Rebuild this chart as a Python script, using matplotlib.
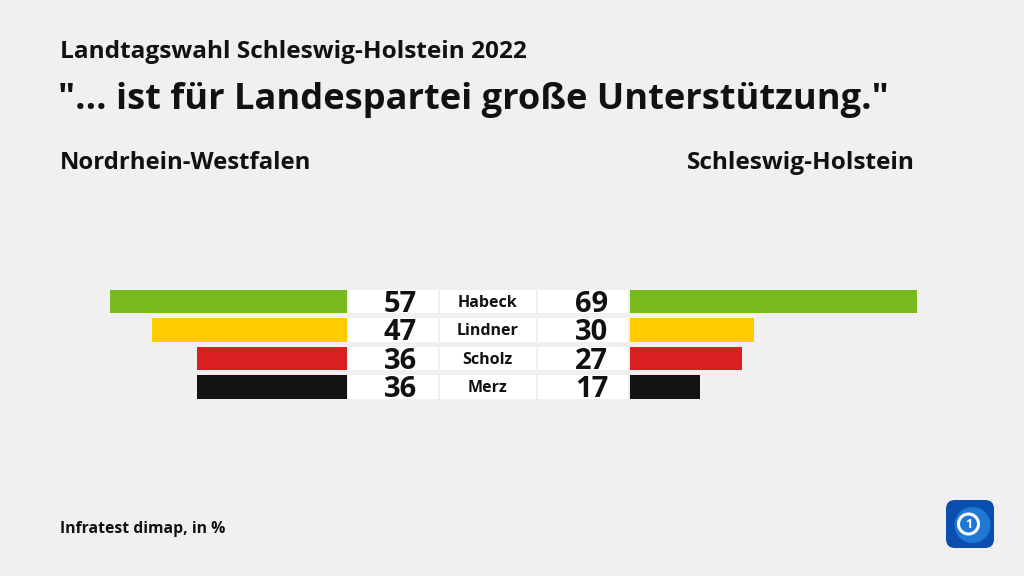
import matplotlib
matplotlib.use("Agg")
import matplotlib.pyplot as plt
from matplotlib.patches import FancyBboxPatch, Circle
import numpy as np

plt.rcParams['font.family'] = ['Open Sans', 'DejaVu Sans']

# ---- data ----
candidates = ["Habeck", "Lindner", "Scholz", "Merz"]
nrw_values = [57, 47, 36, 36]
sh_values = [69, 30, 27, 17]
colors = ["#79bb1e", "#ffcc00", "#d7201f", "#131313"]
title_top = "Landtagswahl Schleswig-Holstein 2022"
title_main = '"... ist für Landespartei große Unterstützung."'
left_header = "Nordrhein-Westfalen"
right_header = "Schleswig-Holstein"
source = "Infratest dimap, in %"

BG = "#f0f0f0"
W, H = 1024, 576
fig = plt.figure(figsize=(W / 100, H / 100), dpi=100, facecolor=BG)

def px_axes(x0, y0, x1, y1):
    return fig.add_axes([x0 / W, 1 - y1 / H, (x1 - x0) / W, (y1 - y0) / H])

n = len(candidates)
ypos = np.arange(n)
row_top, row_pitch = 287.25, 28.5
row_bot = row_top + row_pitch * n
bar_h = 0.81
vmax = 69

# left bars (grow leftwards)
axl = px_axes(60, row_top, 347, row_bot)
axl.barh(ypos, nrw_values, height=bar_h, color=colors)
axl.set_xlim(vmax, 0)
axl.set_ylim(n - 0.5, -0.5)
axl.axis("off")

# right bars
axr = px_axes(629.5, row_top, 916.5, row_bot)
axr.barh(ypos, sh_values, height=bar_h, color=colors)
axr.set_xlim(0, vmax)
axr.set_ylim(n - 0.5, -0.5)
axr.axis("off")

# middle table with white boxes
axm = px_axes(347, row_top, 629.5, row_bot)
axm.set_xlim(347, 629.5)
axm.set_ylim(n - 0.5, -0.5)
axm.axis("off")
boxes = [(347.5, 437.5), (439.5, 536), (538, 628)]
for (b0, b1) in boxes:
    axm.barh(ypos, [b1 - b0] * n, left=b0, height=bar_h, color="white")
for i in range(n):
    axm.text(417, i + 0.1, str(nrw_values[i]), ha="right", va="center",
             fontsize=21, fontweight="bold", color="#111111")
    axm.text(487.5, i + 0.05, candidates[i], ha="center", va="center",
             fontsize=11.5, fontweight="bold", color="#111111")
    axm.text(608, i + 0.1, str(sh_values[i]), ha="right", va="center",
             fontsize=21, fontweight="bold", color="#111111")

# titles
fig.text(60 / W, 1 - 52 / H, title_top, ha="left", va="center",
         fontsize=17.6, fontweight="bold", color="#111111")
fig.text(58 / W, 1 - 100 / H, title_main, ha="left", va="center",
         fontsize=26.1, fontweight="bold", color="#111111")
fig.text(60 / W, 1 - 163 / H, left_header, ha="left", va="center",
         fontsize=17.2, fontweight="bold", color="#111111")
fig.text(915 / W, 1 - 163 / H, right_header, ha="right", va="center",
         fontsize=17.6, fontweight="bold", color="#111111")
fig.text(60 / W, 1 - 529 / H, source, ha="left", va="center",
         fontsize=11.3, fontweight="bold", color="#111111")

# logo
axg = px_axes(945, 499, 995, 549)
axg.set_xlim(0, 1)
axg.set_ylim(0, 1)
axg.axis("off")
axg.add_patch(FancyBboxPatch((0.02, 0.02), 0.96, 0.96, boxstyle="round,pad=0,rounding_size=0.18",
                             facecolor="#0a4fb0", edgecolor="none"))
axg.add_patch(Circle((0.55, 0.48), 0.36, facecolor="#1f78d6", edgecolor="none"))
axg.add_patch(Circle((0.47, 0.5), 0.2, facecolor="none", edgecolor="white", linewidth=2.2))
axg.text(0.47, 0.49, "1", ha="center", va="center", fontsize=9, fontweight="bold", color="white")

fig.savefig("out.png", dpi=100, facecolor=BG)
